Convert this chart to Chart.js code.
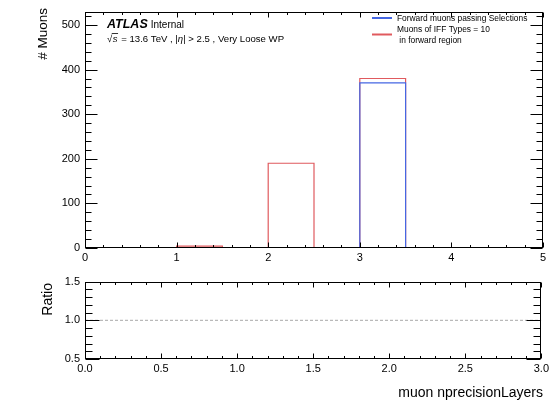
<!DOCTYPE html>
<html>
<head>
<meta charset="utf-8">
<script src="https://cdn.jsdelivr.net/npm/chart.js@4"></script>
<style>
  html, body { margin: 0; padding: 0; background: #fff; }
  #wrap { position: relative; width: 552px; height: 401px; }
  #mainBox { position: absolute; left: 0; top: 0; width: 552px; height: 270px; }
  #ratioBox { position: absolute; left: 0; top: 270px; width: 552px; height: 131px; }
</style>
</head>
<body>
<div id="wrap">
  <div id="mainBox"><canvas id="mainCanvas"></canvas></div>
  <div id="ratioBox"><canvas id="ratioCanvas"></canvas></div>
</div>
<script>
// histogram bins (muon nprecisionLayers)
const binEdges = [0, 0.5, 1, 1.5, 2, 2.5, 3, 3.5, 4, 4.5, 5];
const blueCounts = [0, 0, 0, 0, 0, 0, 370, 0, 0, 0];
const redCounts = [1, 0, 4, 0, 190, 0, 380, 0, 0, 0];

const mainXTicks = [0, 1, 2, 3, 4, 5];
const mainYTicks = [0, 100, 200, 300, 400, 500];
const ratioXTicks = [0, 0.5, 1, 1.5, 2, 2.5, 3];
const ratioYTicks = [0.5, 1.0, 1.5];

const ratioLineX = [0, 3];
const ratioLineY = [1, 1];

const blueLabel = "Forward muons passing Selections";
const redLabel = ["Muons of IFF Types = 10", " in forward region"];

const FONT = "'Liberation Sans', Arial, Helvetica, sans-serif";
const BLUE = "#4567e3";
const RED = "#e05a5e";

function histPoints(counts){
    let pts = counts.map((c, i) => ({x: binEdges[i], y: c}));
    pts.push({x: binEdges[binEdges.length - 1], y: counts[counts.length - 1]});
    return pts;
}

// ROOT style frame with inward ticks on all four sides
function framePlugin(cfg){
    return {
        id: 'frame',
        afterDatasetsDraw(chart){
            const ctx = chart.ctx;
            const ca = chart.chartArea;
            const xs = chart.scales.x, ys = chart.scales.y;
            const L = Math.round(ca.left) + 0.5, R = Math.round(ca.right) - 0.5;
            const T = Math.round(ca.top) + 0.5, B = Math.round(ca.bottom) - 0.5;
            ctx.save();
            ctx.strokeStyle = '#000';
            ctx.lineWidth = 1;
            ctx.strokeRect(L, T, R - L, B - T);
            ctx.beginPath();
            const eps = 1e-9;
            for (let v = xs.min, i = 0; v <= xs.max + eps; i++, v = xs.min + i * cfg.xMinor){
                const major = Math.abs(v / cfg.xMajor - Math.round(v / cfg.xMajor)) < 1e-6;
                const len = major ? cfg.xMajorLen : cfg.xMajorLen / 2;
                const px = Math.round(xs.getPixelForValue(v)) + 0.5;
                ctx.moveTo(px, B); ctx.lineTo(px, B - len);
                ctx.moveTo(px, T); ctx.lineTo(px, T + len);
            }
            for (let v = ys.min, i = 0; v <= ys.max + eps; i++, v = ys.min + i * cfg.yMinor){
                const major = Math.abs(v / cfg.yMajor - Math.round(v / cfg.yMajor)) < 1e-6;
                const len = major ? cfg.yMajorLen : cfg.yMajorLen / 2;
                const py = Math.round(ys.getPixelForValue(v)) + 0.5;
                ctx.moveTo(L, py); ctx.lineTo(L + len, py);
                ctx.moveTo(R, py); ctx.lineTo(R - len, py);
            }
            ctx.stroke();
            ctx.restore();
        }
    };
}

const mainTextPlugin = {
    id: 'mainText',
    afterDraw(chart){
        const ctx = chart.ctx;
        ctx.save();
        ctx.fillStyle = '#000';
        // y title, aligned to the top of the axis
        ctx.save();
        ctx.translate(47, 8);
        ctx.rotate(-Math.PI / 2);
        ctx.font = "13.5px " + FONT;
        ctx.textAlign = 'right';
        ctx.textBaseline = 'alphabetic';
        ctx.fillText("# Muons", 0, 0);
        ctx.restore();
        // ATLAS label
        ctx.textAlign = 'left';
        ctx.font = "italic bold 12.5px " + FONT;
        ctx.fillText("ATLAS", 107, 28);
        const w = ctx.measureText("ATLAS").width;
        ctx.font = "10px " + FONT;
        ctx.fillText("Internal", 107 + w + 3, 28);
        // sqrt(s) line
        ctx.font = "9.6px " + FONT;
        let x = 107;
        const y = 42;
        ctx.fillText("\u221A", x, y);
        x += ctx.measureText("\u221A").width;
        ctx.font = "italic 9.6px " + FONT;
        const sw = ctx.measureText("s").width;
        ctx.fillText("s", x + 0.5, y);
        ctx.lineWidth = 0.8;
        ctx.strokeStyle = '#000';
        ctx.beginPath();
        ctx.moveTo(x - 0.5, y - 8.5); ctx.lineTo(x + sw + 1, y - 8.5);
        ctx.stroke();
        x += sw + 1.5;
        ctx.font = "9.6px " + FONT;
        ctx.fillText(" = 13.6 TeV , |", x, y);
        x += ctx.measureText(" = 13.6 TeV , |").width;
        ctx.font = "italic 9.6px " + FONT;
        ctx.fillText("\u03B7", x, y);
        x += ctx.measureText("\u03B7").width;
        ctx.font = "9.6px " + FONT;
        ctx.fillText("| > 2.5 , Very Loose WP", x, y);
        // legend
        ctx.font = "8.4px " + FONT;
        ctx.textBaseline = 'alphabetic';
        ctx.lineWidth = 2;
        ctx.strokeStyle = BLUE;
        ctx.beginPath(); ctx.moveTo(372, 18); ctx.lineTo(392, 18); ctx.stroke();
        ctx.fillText(blueLabel, 397, 21);
        ctx.strokeStyle = RED;
        ctx.beginPath(); ctx.moveTo(372, 34.5); ctx.lineTo(392, 34.5); ctx.stroke();
        ctx.fillText(redLabel[0], 397, 32);
        ctx.fillText(redLabel[1], 397, 43);
        ctx.restore();
    }
};

const ratioTextPlugin = {
    id: 'ratioText',
    afterDraw(chart){
        const ctx = chart.ctx;
        ctx.save();
        ctx.fillStyle = '#000';
        ctx.font = "14px " + FONT;
        ctx.save();
        ctx.translate(52, 13);
        ctx.rotate(-Math.PI / 2);
        ctx.textAlign = 'right';
        ctx.fillText("Ratio", 0, 0);
        ctx.restore();
        ctx.textAlign = 'right';
        ctx.textBaseline = 'alphabetic';
        ctx.fillText("muon nprecisionLayers", 543, 127);
        ctx.restore();
    }
};

function axisOpts(min, max, tickVals, fmt, fitSize, isX, pad){
    return {
        type: 'linear',
        min: min,
        max: max,
        grid: { display: false, drawTicks: false },
        border: { display: false },
        afterBuildTicks: (scale) => { scale.ticks = tickVals.map(v => ({value: v})); },
        afterFit: (scale) => { if (isX) scale.height = fitSize; else scale.width = fitSize; },
        ticks: {
            color: '#000',
            font: { family: FONT, size: 11 },
            padding: pad,
            maxRotation: 0,
            autoSkip: false,
            callback: fmt
        }
    };
}

new Chart(document.getElementById('mainCanvas'), {
    type: 'line',
    data: {
        datasets: [
            { label: blueLabel, data: histPoints(blueCounts), borderColor: BLUE, borderWidth: 1.2,
              stepped: true, pointRadius: 0, fill: false, clip: 0 },
            { label: redLabel.join(''), data: histPoints(redCounts), borderColor: RED, borderWidth: 1.2,
              stepped: true, pointRadius: 0, fill: false, clip: 0 }
        ]
    },
    options: {
        responsive: true,
        maintainAspectRatio: false,
        animation: false,
        layout: { padding: { top: 8, right: 9, left: 0, bottom: 0 } },
        plugins: { legend: { display: false }, tooltip: { enabled: false } },
        scales: {
            x: axisOpts(0, 5, mainXTicks, v => String(v), 22, true, 3),
            y: axisOpts(0, 530, mainYTicks, v => String(v), 85, false, 5)
        }
    },
    plugins: [framePlugin({xMajor: 1, xMinor: 0.2, xMajorLen: 5, yMajor: 100, yMinor: 20, yMajorLen: 12}), mainTextPlugin]
});

new Chart(document.getElementById('ratioCanvas'), {
    type: 'line',
    data: {
        datasets: [
            { label: 'ratio', data: ratioLineX.map((x, i) => ({x: x, y: ratioLineY[i]})),
              borderColor: '#a8a8a8', borderWidth: 1, borderDash: [3, 2], pointRadius: 0, fill: false }
        ]
    },
    options: {
        responsive: true,
        maintainAspectRatio: false,
        animation: false,
        layout: { padding: { top: 10, right: 9, left: 0, bottom: 0 } },
        plugins: { legend: { display: false }, tooltip: { enabled: false } },
        scales: {
            x: axisOpts(0, 3, ratioXTicks, v => v.toFixed(1), 42, true, 3),
            y: axisOpts(0.5, 1.5, ratioYTicks, v => v.toFixed(1), 85, false, 5)
        }
    },
    plugins: [framePlugin({xMajor: 0.5, xMinor: 0.1, xMajorLen: 5, yMajor: 0.5, yMinor: 0.1, yMajorLen: 14}), ratioTextPlugin]
});
</script>
</body>
</html>
